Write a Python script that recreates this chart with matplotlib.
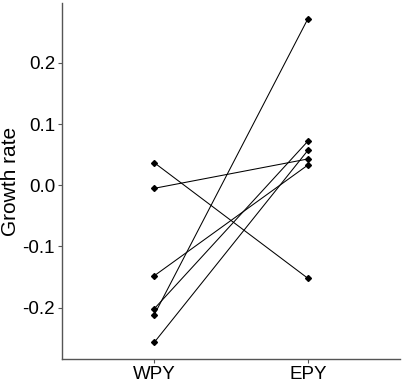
import matplotlib
matplotlib.use("Agg")
import matplotlib.pyplot as plt

# paired growth rates, WPY -> EPY
groups = ["WPY", "EPY"]
wpy = [0.037, -0.005, -0.148, -0.202, -0.212, -0.257]
epy = [-0.152, 0.043, 0.033, 0.072, 0.272, 0.057]

plt.rcParams['font.family'] = ['Liberation Sans', 'DejaVu Sans']

fig = plt.figure(figsize=(4.03, 3.84), dpi=100)
ax = fig.add_axes([62 / 403, 25 / 384, 338 / 403, 356 / 384])

xs = [1, 2]
for a, b in zip(wpy, epy):
    ax.plot(xs, [a, b], color='black', lw=0.75, marker='D', ms=3)

ax.set_xlim(0.4, 2.6)
ax.set_ylim(-0.284, 0.298)
ax.set_xticks(xs)
ax.set_xticklabels(groups)
ax.set_yticks([-0.2, -0.1, 0.0, 0.1, 0.2])
ax.set_yticklabels(['-0.2', '-0.1', '0.0', '0.1', '0.2'])
ax.set_ylabel('Growth rate', fontsize=15, labelpad=2)

for s in ['top', 'right']:
    ax.spines[s].set_visible(False)
for s in ['left', 'bottom']:
    ax.spines[s].set_color('#555555')
    ax.spines[s].set_linewidth(1.0)
ax.tick_params(colors='#555555', labelcolor='black', labelsize=13.5, length=3, pad=2)

fig.savefig('out.png', dpi=100)
